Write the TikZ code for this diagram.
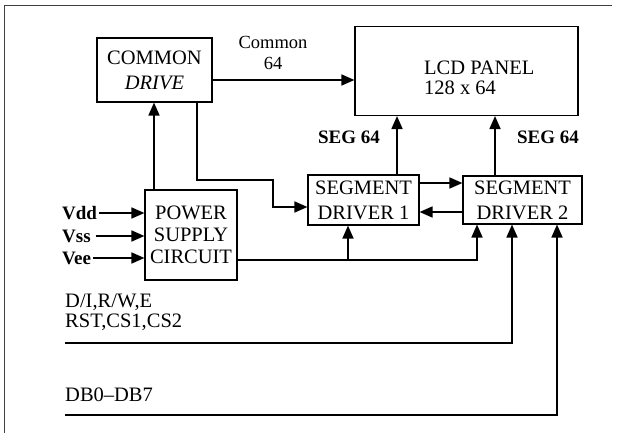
\documentclass[tikz,border=0pt]{standalone}
\usepackage{fontspec}
\setmainfont{Liberation Serif}
\usetikzlibrary{arrows.meta}

\begin{document}
\begin{tikzpicture}[
    x=1pt, y=-1pt,
    blk/.style={draw, line width=1.1pt, align=center, inner sep=2pt,
                font=\fontsize{20.5}{25}\selectfont},
    lab/.style={font=\fontsize{20.5}{20}\selectfont, inner sep=0pt},
    seglab/.style={font=\fontsize{19}{19}\selectfont\bfseries, inner sep=0pt},
    arrow/.style={-{Triangle[length=13pt, width=11pt]}, line width=1.7pt},
    wire/.style={line width=1.7pt}
  ]
    \useasboundingbox (0,0) rectangle (618,433);
    % page frame
    \draw[line width=0.8pt, black!75] (612,5) -- (4,5) -- (4,433);

    \node[blk, minimum width=115pt, minimum height=64pt] (cdrive) at (154.5,70) {COMMON\\\textit{DRIVE}};
    \node[blk, minimum width=223pt, minimum height=89pt] (lcd) at (466.5,71) {};
    \node[lab, align=left, anchor=west] (lcdtext) at (424,78) {LCD PANEL\\128 x 64};
    \node[font=\fontsize{18.5}{21}\selectfont, align=center, inner sep=0pt] (comlab) at (273,53) {Common\\64};
    \node[blk, minimum width=92pt, minimum height=90pt, font=\fontsize{20.5}{22}\selectfont] (pwr) at (191,235) {POWER\\SUPPLY\\CIRCUIT};
    \node[blk, minimum width=111pt, minimum height=50pt] (sd1) at (363.5,200) {SEGMENT\\DRIVER 1};
    \node[blk, minimum width=119pt, minimum height=48pt] (sd2) at (522.5,200) {SEGMENT\\DRIVER 2};
    \node[seglab] (seg1) at (349,137) {SEG 64};
    \node[seglab] (seg2) at (548,137) {SEG 64};
    \node[seglab, anchor=west] (vdd) at (62,213) {Vdd};
    \node[seglab, anchor=west] (vss) at (62,236) {Vss};
    \node[seglab, anchor=west] (vee) at (62,258) {Vee};
    \node[lab, align=left, anchor=west] (ctltext) at (65,312) {D/I,R/W,E\\RST,CS1,CS2};
    \node[lab, anchor=west] (dattext) at (65,395) {DB0--DB7};

    \coordinate (cbend) at (273,180);
    \coordinate (pwrout) at ([yshift=-25pt]pwr.east);
    \coordinate (ctl) at (65,343);
    \coordinate (dat) at (65,415);

    \draw[arrow] ([yshift=-10pt]cdrive.east) -- ([yshift=-10pt]cdrive.east -| lcd.west);
    \draw[arrow] ([xshift=-37pt]pwr.north) -- ([xshift=-37pt]pwr.north |- cdrive.south);
    \draw[arrow] ([xshift=42.5pt]cdrive.south) |- (cbend) |- ([yshift=-7pt]sd1.west);
    \draw[arrow] ([yshift=17pt]sd1.east) -- ([yshift=17pt]sd1.east -| sd2.west);
    \draw[arrow] ([yshift=-12pt]sd2.west) -- ([yshift=-12pt]sd2.west -| sd1.east);
    \draw[arrow] ([xshift=33.5pt]sd1.north) -- ([xshift=33.5pt]sd1.north |- lcd.south);
    \draw[arrow] ([xshift=-27.5pt]sd2.north) -- ([xshift=-27.5pt]sd2.north |- lcd.south);
    \draw[arrow] ([xshift=2pt]vdd.east) -- (vdd.east -| pwr.west);
    \draw[arrow] ([xshift=5pt]vss.east) -- (vss.east -| pwr.west);
    \draw[arrow] ([xshift=2pt]vee.east) -- (vee.east -| pwr.west);
    \draw[arrow] (pwrout) -| ([xshift=-45.5pt]sd2.south);
    \draw[arrow] ([xshift=-15.5pt]sd1.south |- pwrout) -- ([xshift=-15.5pt]sd1.south);
    \draw[arrow] (ctl) -| ([xshift=-10.5pt]sd2.south);
    \draw[arrow] (dat) -| ([xshift=34.5pt]sd2.south);
  \end{tikzpicture}
\end{document}
